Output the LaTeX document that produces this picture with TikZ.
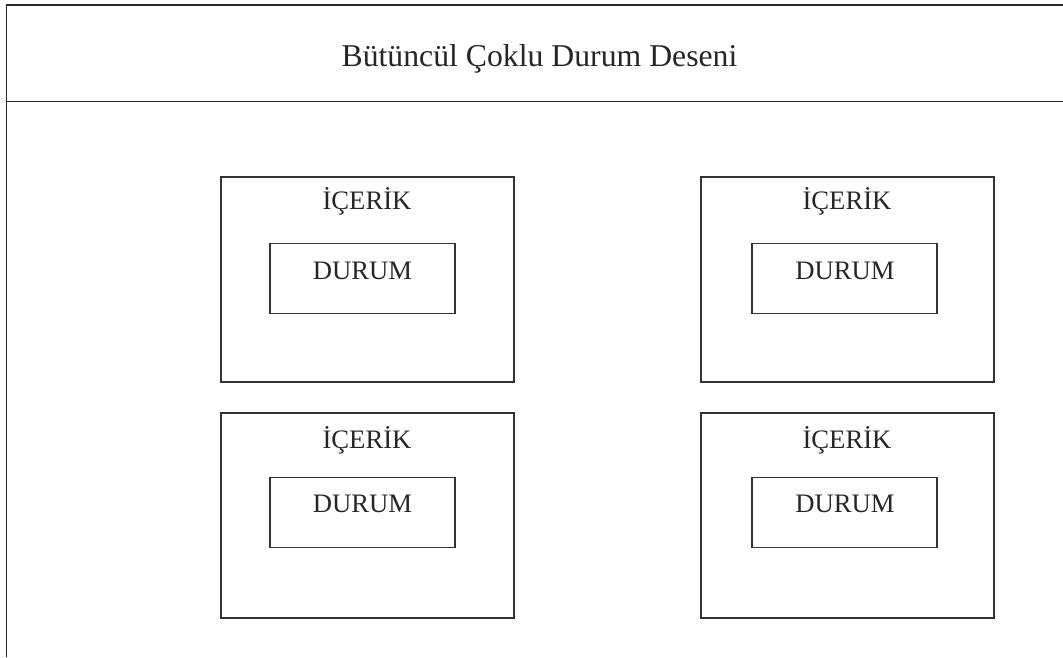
\documentclass[tikz,border=0pt]{standalone}
\usepackage{fontspec}
\setmainfont{Liberation Serif}
\begin{document}
\begin{tikzpicture}[x=0.75pt,y=-0.75pt,
  frame/.style={line width=1.1pt,draw=black!85},
  contentbox/.style={draw=black!80,line width=0.8pt,minimum width=219.75pt,minimum height=153.75pt,inner sep=0pt},
  statebox/.style={draw=black!80,line width=0.8pt,minimum width=138.75pt,minimum height=53pt,inner sep=0pt},
  lbl/.style={font=\fontsize{20}{24}\selectfont,text=black!85,inner sep=0pt,anchor=base}]
\useasboundingbox (0,0) rectangle (1063,657);
\draw[frame] (1063,5) -- (6.5,5) -- (6.5,657);
\draw[frame] (6.5,101.5) -- (1063,101.5);
\node[font=\fontsize{23.8}{28}\selectfont,text=black!85,inner sep=0pt,anchor=base] (title) at (539.5,66.5) {Bütüncül Çoklu Durum Deseni};
% content boxes
\node[contentbox] (c1) at (367.5,279.5) {};
\node[contentbox] (c2) at (847.5,279.5) {};
\node[contentbox] (c3) at (367.5,515.5) {};
\node[contentbox] (c4) at (847.5,515.5) {};
\node[statebox] (s1) at (362.5,278.5) {};
\node[statebox] (s2) at (844.5,278.5) {};
\node[statebox] (s3) at (362.5,512.5) {};
\node[statebox] (s4) at (844.5,512.5) {};
\node[lbl] (i1) at (367,209.5) {İÇERİK};
\node[lbl] (i2) at (847,209.5) {İÇERİK};
\node[lbl] (i3) at (367,448) {İÇERİK};
\node[lbl] (i4) at (847,448) {İÇERİK};
\node[lbl] (d1) at (362.5,279.5) {DURUM};
\node[lbl] (d2) at (845,279) {DURUM};
\node[lbl] (d3) at (362.5,512) {DURUM};
\node[lbl] (d4) at (845,512) {DURUM};
\end{tikzpicture}
\end{document}
